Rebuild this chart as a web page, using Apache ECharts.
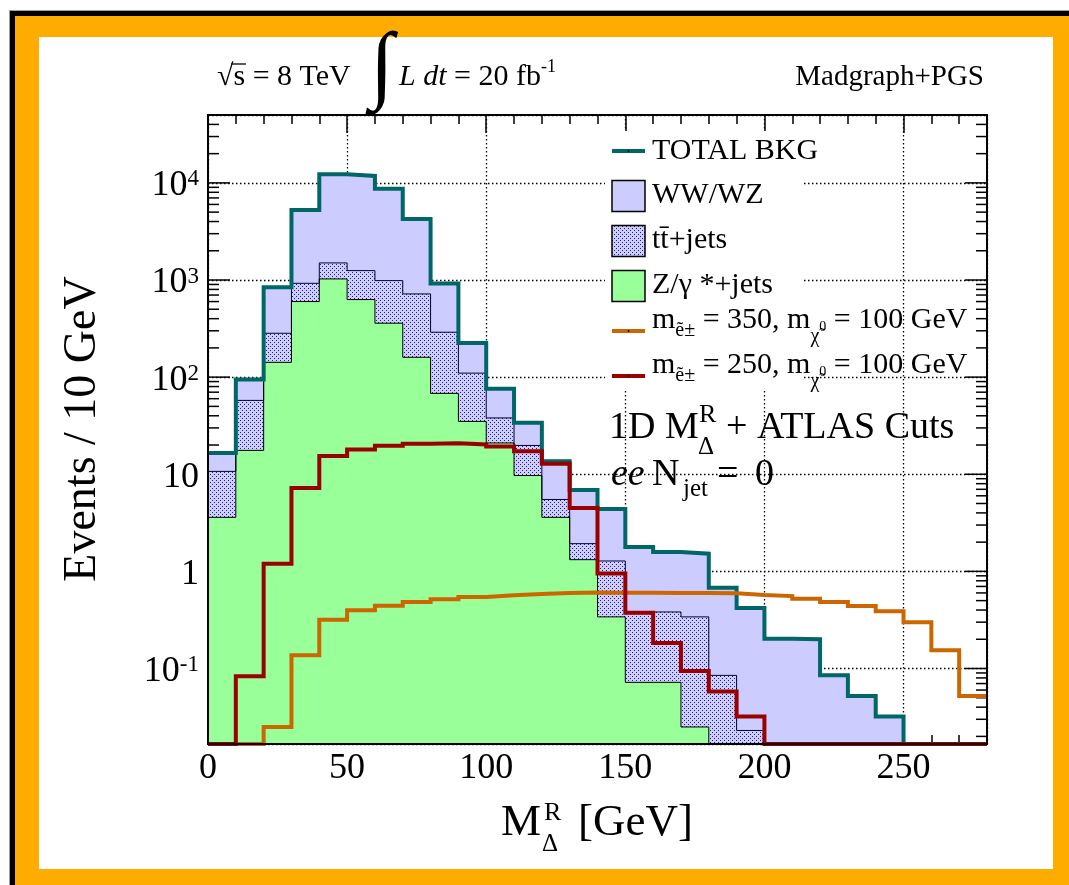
<!DOCTYPE html>
<html>
<head>
<meta charset="utf-8">
<title>M_Delta^R distribution</title>
<script src="https://cdn.jsdelivr.net/npm/echarts@6.0.0/dist/echarts.min.js"></script>
<style>
  html, body { margin: 0; padding: 0; width: 1069px; height: 885px; overflow: hidden; background: #fff; }
  .band { position: absolute; }
  #edge  { left: 9px;  top: 10px; width: 1060px; height: 875px; background: #a0a0a0; }
  #outer { left: 10px; top: 11px; width: 1059px; height: 874px; background: #000; }
  #frame { left: 15px; top: 16px; width: 1054px; height: 869px; background: #ffac00; }
  #page  { left: 39px; top: 37px; width: 1014px; height: 832px; background: #fff; }
  #chart { position: absolute; left: 0; top: 0; width: 1069px; height: 885px; }
</style>
</head>
<body>
<div class="band" id="edge"></div>
<div class="band" id="outer"></div>
<div class="band" id="frame"></div>
<div class="band" id="page"></div>
<div id="chart"></div>
<script>
// ---- binning (GeV) ----
const BIN_WIDTH = 10;
const binLow = [0, 10, 20, 30, 40, 50, 60, 70, 80, 90, 100, 110, 120, 130,
                140, 150, 160, 170, 180, 190, 200, 210, 220, 230, 240, 250, 260, 270];

// ---- backgrounds: events / 10 GeV ----
const zJets  = [3.6, 17.6, 142, 600, 1026, 629, 359, 160, 68, 35, 21, 9.7, 3.6, 1.32,
                0.34, 0.072, 0.072, 0.025, 0, 0, 0, 0, 0, 0, 0, 0, 0, 0];
const ttJets = [7.1, 40, 141, 325, 474, 621, 627, 559, 222, 75, 17, 10.1, 1.9, 0.61,
                0.94, 0.31, 0.31, 0.315, 0.085, 0.023, 0, 0, 0, 0, 0, 0, 0, 0];
const wwWz   = [5.9, 37, 558, 4335, 10740, 10530, 7724, 3531, 628, 115, 38, 14.1, 8.1, 4.97,
                3.12, 1.40, 1.20, 1.18, 0.595, 0.397, 0.203, 0.20, 0.085, 0.052, 0.032, 0, 0, 0];

// ---- signals: events / 10 GeV ----
const sig350 = [0, 0, 0.025, 0.137, 0.318, 0.397, 0.443, 0.483, 0.515, 0.544, 0.567, 0.585, 0.598, 0.606,
                0.604, 0.604, 0.598, 0.598, 0.594, 0.57, 0.557, 0.524, 0.483, 0.44, 0.388, 0.30, 0.154, 0.052];
const sig250 = [0, 0.083, 1.2, 7.2, 15.4, 18.0, 19.6, 20.6, 20.9, 20.3, 19.3, 17.3, 12.8, 4.5,
                0.95, 0.376, 0.183, 0.094, 0.058, 0.032, 0, 0, 0, 0, 0, 0, 0, 0];

// ---- axes ----
const X_MIN = 0, X_MAX = 280, X_MAJOR = 50;
const Y_MIN = 0.0167, Y_MAX = 50000;
const yDecades = [-1, 0, 1, 2, 3, 4];

// ---- styling ----
const FONT = '"Liberation Serif", "Times New Roman", serif';
const C = {
  total: '#006666', ww: '#ccccff', z: '#99ff99',
  s350: '#cc6600', s250: '#990000', dots: '#24246e'
};

// dotted fill used for the t-tbar component
function dotCanvas() {
  const c = document.createElement('canvas');
  c.width = 4; c.height = 4;
  const g = c.getContext('2d');
  g.fillStyle = C.ww; g.fillRect(0, 0, 4, 4);
  g.fillStyle = C.dots;
  g.fillRect(0, 0, 1, 1); g.fillRect(2, 2, 1, 1);
  return c;
}
const DOTS = { image: dotCanvas(), repeat: 'repeat' };

// cumulative stack: Z, Z+tt, Z+tt+WW
const zTop = zJets.slice();
const ttTop = zJets.map((v, i) => v + ttJets[i]);
const totalBkg = ttTop.map((v, i) => v + wwWz[i]);

// empty bins are drawn on the lower edge of the log axis
const atFloor = v => Math.max(v, Y_MIN);

function stepSeries(name, vals, color, width, z) {
  const pts = vals.map((v, i) => [binLow[i], atFloor(v)]);
  pts.push([binLow[binLow.length - 1] + BIN_WIDTH, atFloor(vals[vals.length - 1])]);
  return {
    type: 'line', name, data: pts, step: 'end', symbol: 'none', z, clip: false,
    silent: true, lineStyle: { color, width, join: 'miter', cap: 'butt' }
  };
}

// log-axis tick positions: 1..9 x 10^n inside the range
const yTicks = [];
for (let e = -2; e <= 4; e++) {
  for (let m = 1; m <= 9; m++) {
    const v = m * Math.pow(10, e);
    if (v >= Y_MIN && v <= Y_MAX) yTicks.push([X_MIN, v, X_MAX, m === 1 ? 1 : 0]);
  }
}

// ---- text helpers ----
function txt(x, baseline, text, size, extra) {
  return {
    type: 'text', z: 100, silent: true,
    style: Object.assign({
      x, y: baseline - 0.3375 * size, text,
      font: size + 'px ' + FONT, fill: '#000',
      align: 'left', verticalAlign: 'middle'
    }, extra || {})
  };
}
function itxt(x, baseline, text, size, extra) {
  return txt(x, baseline, text, size, Object.assign({ font: 'italic ' + size + 'px ' + FONT }, extra || {}));
}
function rt(size, padTop, italic) {
  return { fontSize: size, fontFamily: FONT, fontStyle: italic ? 'italic' : 'normal',
           padding: [padTop, 0, 0, 0], verticalAlign: 'top', color: '#000' };
}

const legendRows = [151, 196, 241, 286, 331, 376];
const LX = 612, LW = 33, TX = 652;

function lineKey(cy, color) {
  return [
    { type: 'rect', z: 90, silent: true, shape: { x: LX, y: cy - 2, width: LW, height: 4 }, style: { fill: color } },
    { type: 'circle', z: 91, silent: true, shape: { cx: LX + LW / 2, cy, r: 0.9 }, style: { fill: '#000' } }
  ];
}
function boxKey(cy, fill) {
  return { type: 'rect', z: 90, silent: true,
           shape: { x: LX, y: cy - 15.5, width: LW, height: 31 },
           style: { fill, stroke: '#000', lineWidth: 1.5 } };
}
function massLabel(baseline, mSel) {
  const rich = {
    b: rt(30, 0), e: rt(20, 16), c: rt(20, 22), o: rt(14, 15)
  };
  return {
    type: 'text', z: 100, silent: true,
    style: {
      x: TX, y: baseline - 25, verticalAlign: 'top', align: 'left',
      text: '{b|m}{e|ẽ±}{b| = ' + mSel + ', m}{c|χ̃}{o|0}{b| = 100 GeV}', rich
    }
  };
}

const graphics = [
  // legend backdrop
  { type: 'rect', z: 50, silent: true, shape: { x: 605, y: 131, width: 197, height: 258 }, style: { fill: '#fff' } },
  ...lineKey(legendRows[0], C.total),
  boxKey(legendRows[1], C.ww),
  boxKey(legendRows[2], DOTS),
  boxKey(legendRows[3], C.z),
  ...lineKey(legendRows[4], C.s350),
  ...lineKey(legendRows[5], C.s250),
  txt(TX, 161.5, 'TOTAL BKG', 30),
  txt(TX, 205.5, 'WW/WZ', 30),
  txt(TX, 250.5, 'tt\u0304+jets', 30),
  txt(TX, 295.5, 'Z/γ *+jets', 30),
  massLabel(330, 350),
  massLabel(375, 250),

  // header: centre-of-mass energy and luminosity
  txt(217, 87, '√s = 8 TeV', 30),
  { type: 'line', z: 100, silent: true, shape: { x1: 231, y1: 64, x2: 246, y2: 64 }, style: { stroke: '#000', lineWidth: 1.3 } },
  txt(370, 98.6, '∫', 86),
  {
    type: 'text', z: 100, silent: true,
    style: {
      x: 399, y: 87 - 33.1, verticalAlign: 'top', align: 'left',
      text: '{i|L dt}{r| = 20 fb}{s|-1}',
      rich: { i: rt(30, 8, true), r: rt(30, 8), s: rt(18, 4) }
    }
  },
  txt(984, 87, 'Madgraph+PGS', 29, { align: 'right' }),

  // selection annotation
  txt(609, 441, '1D M', 38),
  txt(699, 424, 'R', 26),
  txt(698, 456, 'Δ', 25),
  txt(726, 441, '+ ATLAS Cuts', 38),
  itxt(611, 488, 'ee', 38),
  txt(652, 488, 'N', 38),
  txt(683, 498, 'jet', 25),
  txt(717, 488, '=', 38),
  txt(755, 488, '0', 38),

  // axis titles
  txt(501, 838, 'M', 45),
  txt(544, 822, 'R', 26),
  txt(542, 853, 'Δ', 25),
  txt(578, 838, '[GeV]', 45),
  {
    type: 'text', z: 100, silent: true, x: 83, y: 429, rotation: Math.PI / 2,
    style: { x: 0, y: 0, text: 'Events / 10 GeV', font: '46px ' + FONT, fill: '#000',
             align: 'center', verticalAlign: 'middle' }
  }
];

const tickLine = { color: '#000', width: 1.5 };
const gridLine = { color: '#000', width: 1.3, type: [1.5, 2.5] };

const option = {
  animation: false,
  grid: { left: 208, top: 115, width: 779, height: 629, containLabel: false, outerBoundsMode: 'none' },
  xAxis: [
    {
      type: 'value', min: X_MIN, max: X_MAX, interval: X_MAJOR, position: 'bottom', z: 0,
      axisLine: { show: false },
      axisTick: { show: true, inside: true, length: 18, lineStyle: tickLine },
      minorTick: { show: true, splitNumber: 5, length: 9, lineStyle: tickLine },
      axisLabel: { margin: 7, fontFamily: FONT, fontSize: 36, lineHeight: 36, color: '#000',
                   showMinLabel: true, showMaxLabel: false },
      splitLine: { show: true, lineStyle: gridLine },
      minorSplitLine: { show: false }
    },
    {
      type: 'value', min: X_MIN, max: X_MAX, interval: X_MAJOR, position: 'top', z: 0,
      axisLine: { show: false },
      axisTick: { show: true, inside: true, length: 18, lineStyle: tickLine },
      minorTick: { show: true, splitNumber: 5, length: 9, lineStyle: tickLine },
      axisLabel: { show: false },
      splitLine: { show: false }
    }
  ],
  yAxis: [{
    type: 'log', logBase: 10, min: Y_MIN, max: Y_MAX, z: 0,
    axisLine: { show: false },
    axisTick: { show: false },
    axisLabel: {
      margin: 9, padding: [6, 0, 0, 0], showMinLabel: false, showMaxLabel: false,
      formatter: v => {
        const e = Math.round(Math.log10(v));
        if (yDecades.indexOf(e) < 0) return '';
        if (e === 0) return '{b|1}';
        if (e === 1) return '{b|10}';
        return '{b|10}{s|' + e + '}';
      },
      rich: {
        b: { fontFamily: FONT, fontSize: 36, lineHeight: 36, color: '#000', verticalAlign: 'top' },
        s: { fontFamily: FONT, fontSize: 23, lineHeight: 23, color: '#000', verticalAlign: 'top' }
      }
    },
    splitLine: { show: true, lineStyle: gridLine }
  }],
  graphic: graphics,
  series: [
    // log-axis tick marks on both vertical edges
    {
      type: 'custom', name: 'yTicks', z: 1, silent: true, clip: false,
      data: yTicks, encode: { x: [0, 2], y: 1 },
      renderItem(params, api) {
        const left = api.coord([api.value(0), api.value(1)]);
        const right = api.coord([api.value(2), api.value(1)]);
        const len = api.value(3) ? 22 : 11;
        return {
          type: 'group', children: [
            { type: 'line', shape: { x1: left[0], y1: left[1], x2: left[0] + len, y2: left[1] }, style: { stroke: '#000', lineWidth: 1.5 } },
            { type: 'line', shape: { x1: right[0] - len, y1: right[1], x2: right[0], y2: right[1] }, style: { stroke: '#000', lineWidth: 1.5 } }
          ]
        };
      }
    },
    // stacked background fills
    {
      type: 'custom', name: 'backgrounds', z: 2, silent: true, clip: false,
      data: binLow.map((x, i) => [x, x + BIN_WIDTH, atFloor(zTop[i]), atFloor(ttTop[i]), atFloor(totalBkg[i])]),
      encode: { x: [0, 1], y: [2, 3, 4] },
      renderItem(params, api) {
        const l = Math.round(api.coord([api.value(0), Y_MIN])[0]);
        const r = Math.round(api.coord([api.value(1), Y_MIN])[0]);
        const py = v => Math.round(api.coord([X_MIN, v])[1]);
        const base = py(Y_MIN);
        const box = (top, fill) => ({
          type: 'rect', shape: { x: l, y: py(top), width: r - l, height: base - py(top) }, style: { fill }
        });
        return { type: 'group', children: [box(api.value(4), C.ww), box(api.value(3), DOTS), box(api.value(2), C.z)] };
      }
    },
    stepSeries('tt outline', ttTop, '#000033', 1, 3),
    stepSeries('Z outline', zTop, '#000', 1, 3),
    stepSeries('TOTAL BKG', totalBkg, C.total, 4, 4),
    stepSeries('m350', sig350, C.s350, 4, 5),
    stepSeries('m250', sig250, C.s250, 4, 6),
    // plot frame
    {
      type: 'custom', name: 'frame', z: 10, silent: true, clip: false,
      data: [[X_MIN, Y_MIN, X_MAX, Y_MAX]], encode: { x: [0, 2], y: [1, 3] },
      renderItem(params, api) {
        const a = api.coord([api.value(0), api.value(1)]);
        const b = api.coord([api.value(2), api.value(3)]);
        return { type: 'rect', shape: { x: a[0], y: b[1], width: b[0] - a[0], height: a[1] - b[1] },
                 style: { fill: null, stroke: '#000', lineWidth: 2 } };
      }
    }
  ]
};

const chart = echarts.init(document.getElementById('chart'), null, { renderer: 'canvas' });
chart.setOption(option);
</script>
</body>
</html>
